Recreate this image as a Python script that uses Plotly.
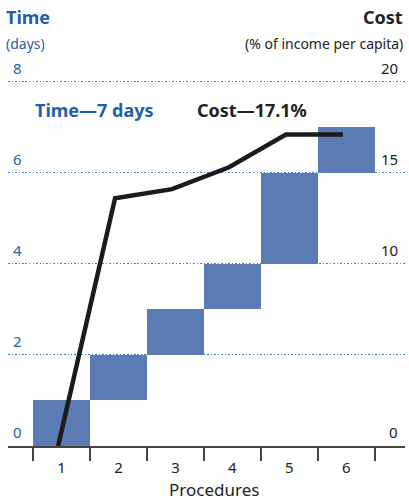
import plotly.graph_objects as go

# data
procedures = [1, 2, 3, 4, 5, 6]
time_start = [0, 1, 2, 3, 4, 6]      # days, cumulative start of each procedure
time_days = [1, 1, 1, 1, 2, 1]       # duration of each procedure
cost_cum = [0, 13.6, 14.1, 15.3, 17.1, 17.1]  # % of income per capita

left_ticks = [0, 2, 4, 6, 8]
right_ticks = [0, 10, 15, 20]

BLUE = '#1f5fa8'
BAR = '#5b7bb5'
DARK = '#222222'
FONT = 'Noto Sans'

W, H = 409, 500
L, R, T, B = 8, 4, 68, 54
plot_w = W - L - R
plot_h = H - T - B

fig = go.Figure()

fig.add_trace(go.Bar(
    x=procedures,
    y=time_days,
    base=time_start,
    width=1,
    marker=dict(color=BAR, line=dict(width=0)),
    hoverinfo='skip',
))

# the cost line sits a touch left of each column centre in the original
fig.add_trace(go.Scatter(
    x=[p - 0.06 for p in procedures],
    y=cost_cum,
    yaxis='y2',
    mode='lines',
    line=dict(color='#1b1b1b', width=4.5),
    hoverinfo='skip',
))

fig.update_layout(
    width=W, height=H,
    margin=dict(l=L, r=R, t=T, b=B, autoexpand=False),
    paper_bgcolor='white', plot_bgcolor='white',
    showlegend=False,
    font=dict(family=FONT, size=14, color=DARK),
    xaxis=dict(
        range=[0.06, 7.03],
        tickvals=procedures,
        ticks='',
        ticklabelstandoff=7,
        tickfont=dict(size=15, color=DARK),
        showgrid=False, zeroline=False,
        showline=True, linecolor='#444444', linewidth=2,
        minor=dict(tickvals=[p - 0.5 for p in procedures] + [procedures[-1] + 0.5],
                   ticks='outside', ticklen=13, tickcolor='#444444', tickwidth=1.5),
        automargin=False,
        fixedrange=True,
    ),
    yaxis=dict(
        range=[0, 8.3],
        tickvals=left_ticks,
        showticklabels=False,
        showgrid=True, gridcolor='#3a7cc4', griddash='1.5px,2px', gridwidth=1.3,
        zeroline=False, showline=False, ticks='',
        automargin=False,
        fixedrange=True,
    ),
    yaxis2=dict(
        range=[0, 8.3 * 2.5],
        overlaying='y', side='right',
        tickvals=right_ticks,
        showticklabels=False,
        showgrid=False, zeroline=False, showline=False, ticks='',
        automargin=False,
        fixedrange=True,
    ),
    bargap=0,
)


def py(center_px):
    # pixel row (from top) -> paper y
    return (H - center_px - B) / plot_h


annotations = [
    dict(text='<b>Time</b>', x=0, xshift=-4, y=py(17), xanchor='left',
         font=dict(size=18, color=BLUE)),
    dict(text='(days)', x=0, xshift=-4, y=py(43), xanchor='left',
         font=dict(size=14, color=BLUE)),
    dict(text='<b>Cost</b>', x=1, y=py(17), xanchor='right',
         font=dict(size=18, color=DARK)),
    dict(text='(% of income per capita)', x=1, y=py(43), xanchor='right',
         font=dict(size=14, color=DARK)),
    dict(text='<b>Time\u20147 days</b>', x=(33 - L) / plot_w, y=py(110), xanchor='left',
         font=dict(size=18, color=BLUE)),
    dict(text='<b>Cost\u201417.1%</b>', x=(195 - L) / plot_w, y=py(110), xanchor='left',
         font=dict(size=18, color=DARK)),
    dict(text='Procedures', x=(214 - L) / plot_w, y=py(489), xanchor='center',
         font=dict(size=17, color=DARK)),
]
for a in annotations:
    a.update(xref='paper', yref='paper', yanchor='middle', showarrow=False)

# tick labels sit just above their gridlines, inside the plot
for v in left_ticks:
    annotations.append(dict(text=str(v), x=0, xref='paper', y=v, yref='y',
                            xanchor='left', yanchor='bottom', xshift=3, yshift=2,
                            showarrow=False, font=dict(size=15, color=BLUE)))
for v in right_ticks:
    annotations.append(dict(text=str(v), x=1, xref='paper', y=v, yref='y2',
                            xanchor='right', yanchor='bottom', xshift=-5, yshift=2,
                            showarrow=False, font=dict(size=15, color=DARK)))

fig.update_layout(annotations=annotations)

# drop the browser's default body margin so the figure sits at the page corner
fig.write_html("out.html", config={'displayModeBar': False},
               post_script="document.body.style.margin='0';")
